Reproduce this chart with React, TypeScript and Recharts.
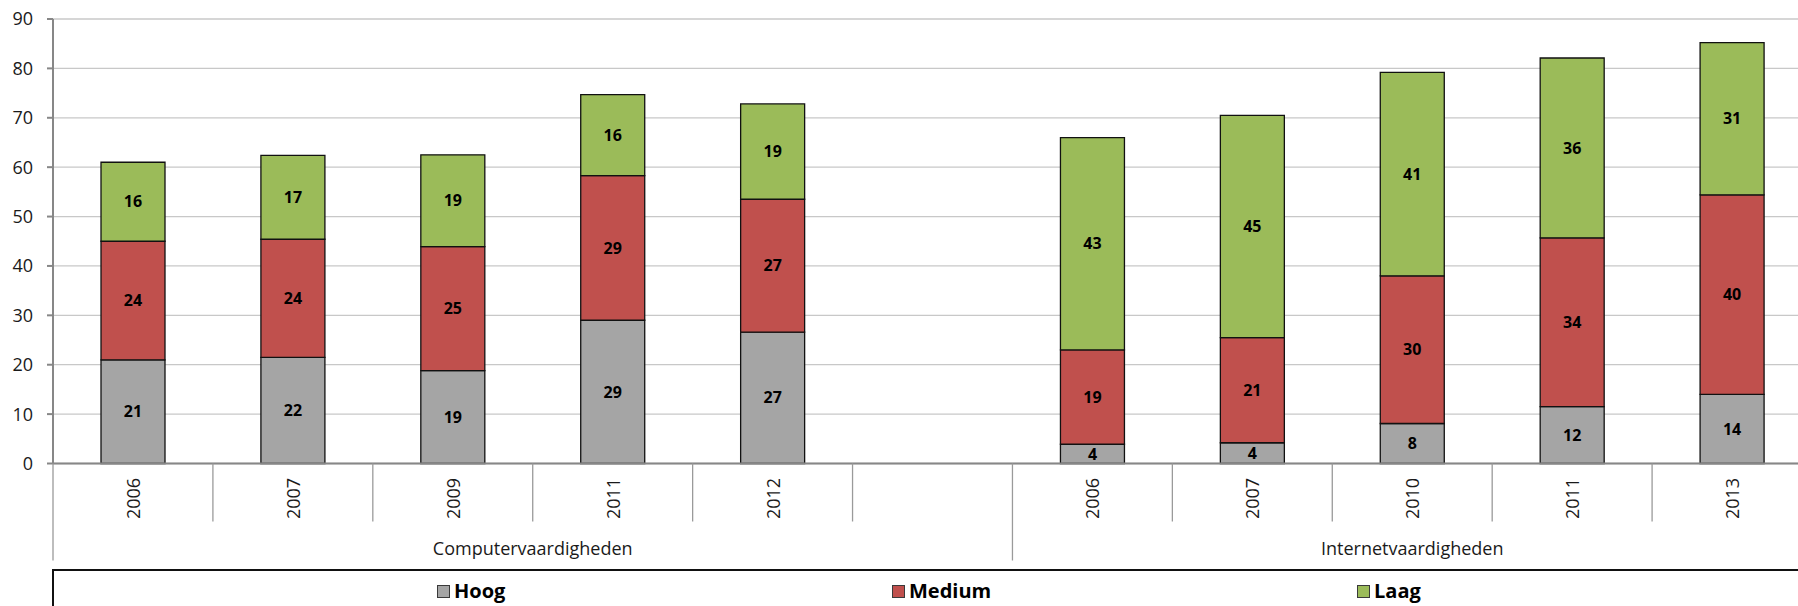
import React from 'react';
import { BarChart, Bar, XAxis, YAxis, CartesianGrid, LabelList, Legend } from 'recharts';

// categories (one slot is left empty between the two groups)
const years = ['2006', '2007', '2009', '2011', '2012', '', '2006', '2007', '2010', '2011', '2013'];
const groups = [
  'Computervaardigheden', 'Computervaardigheden', 'Computervaardigheden',
  'Computervaardigheden', 'Computervaardigheden', 'Computervaardigheden',
  'Internetvaardigheden', 'Internetvaardigheden', 'Internetvaardigheden',
  'Internetvaardigheden', 'Internetvaardigheden',
];

// series values (%)
const hoog = [21.0, 21.5, 18.8, 29.0, 26.6, null, 3.9, 4.2, 8.1, 11.5, 14.0];
const medium = [24.0, 23.9, 25.1, 29.3, 26.9, null, 19.1, 21.3, 29.9, 34.2, 40.4];
const laag = [16.0, 17.0, 18.6, 16.4, 19.3, null, 43.0, 45.0, 41.2, 36.4, 30.8];

const seriesNames = ['Hoog', 'Medium', 'Laag'];
const yTicks = [0, 10, 20, 30, 40, 50, 60, 70, 80, 90];

const data = years.map((year, i) => ({
  key: `${groups[i]}|${i}`,
  year,
  group: groups[i],
  Hoog: hoog[i],
  Medium: medium[i],
  Laag: laag[i],
}));

const FONT = '"Open Sans", "Noto Sans", sans-serif';
const CHART_W = 1820;
const CHART_H = 606;
const MARGIN = { top: 19, right: 8, bottom: 42.5, left: 0 };
const Y_AXIS_W = 53;
const X_AXIS_H = 100;
const PLOT_LEFT = MARGIN.left + Y_AXIS_W;
const PLOT_W = CHART_W - MARGIN.right - PLOT_LEFT;
const PLOT_BOTTOM = CHART_H - MARGIN.bottom - X_AXIS_H;
const SLOT = PLOT_W / data.length;

function CategoryTick(props: any) {
  const { x } = props;
  const index = props.index ?? props.payload?.index ?? 0;
  const row = data[index];
  if (!row) return null;
  const left = x - SLOT / 2;
  const right = x + SLOT / 2;
  const groupStart = index === 0 || data[index - 1].group !== row.group;
  const last = index === data.length - 1;
  const count = data.filter((d) => d.group === row.group).length;
  return (
    <g>
      <line x1={left} x2={left} y1={PLOT_BOTTOM} y2={PLOT_BOTTOM + (groupStart ? 97 : 58)} stroke="#9a9a9a" strokeWidth={1.3} />
      {last && (
        <line x1={right} x2={right} y1={PLOT_BOTTOM} y2={PLOT_BOTTOM + 97} stroke="#9a9a9a" strokeWidth={1.3} />
      )}
      {row.year && (
        <text
          transform={`translate(${x},${PLOT_BOTTOM + 35}) rotate(-90)`}
          textAnchor="middle"
          dominantBaseline="central"
          fontFamily={FONT}
          fontSize={18}
          fill="#1a1a1a"
        >
          {row.year}
        </text>
      )}
      {groupStart && (
        <text
          x={left + (count * SLOT) / 2}
          y={PLOT_BOTTOM + 84}
          textAnchor="middle"
          dominantBaseline="central"
          fontFamily={FONT}
          fontSize={18}
          fill="#1a1a1a"
        >
          {row.group}
        </text>
      )}
    </g>
  );
}

// legend item positions inside the legend box
const legendLeft = [383, 838, 1303];

function LegendBox(props: any) {
  const payload = props.payload || [];
  const items = seriesNames.map((name) => payload.find((p: any) => p.value === name)).filter(Boolean);
  return (
    <div
      style={{
        position: 'relative',
        height: 60,
        borderTop: '2px solid #111',
        borderLeft: '2px solid #111',
        fontFamily: FONT,
      }}
    >
      {items.map((p: any, i: number) => (
        <div
          key={p.value}
          style={{ position: 'absolute', left: legendLeft[i], top: 6, display: 'flex', alignItems: 'center', gap: 4 }}
        >
          <span style={{ width: 11, height: 11, background: p.color, border: '1px solid #3a3a3a', display: 'inline-block' }} />
          <span style={{ fontSize: 20, fontWeight: 700, color: '#000', lineHeight: '28px' }}>{p.value}</span>
        </div>
      ))}
    </div>
  );
}

const fmt = (v: any) => (v == null ? '' : Math.round(v));

export default function App() {
  return (
    <div
      style={{
        position: 'fixed',
        left: 0,
        top: 0,
        width: 1798,
        height: 606,
        overflow: 'hidden',
        background: '#fff',
      }}
    >
      <BarChart width={CHART_W} height={CHART_H} data={data} margin={MARGIN} barSize={64}>
        <CartesianGrid vertical={false} stroke="#c8c8c8" strokeWidth={1.3} />
        <YAxis
          domain={[0, 90]}
          ticks={yTicks}
          width={Y_AXIS_W}
          axisLine={{ stroke: '#878787', strokeWidth: 2 }}
          tickLine={{ stroke: '#878787', strokeWidth: 2 }}
          tickSize={6}
          tickMargin={14}
          tick={{ fill: '#1a1a1a', fontSize: 18, fontFamily: FONT }}
          interval={0}
        />
        <XAxis
          dataKey="key"
          height={X_AXIS_H}
          interval={0}
          tickLine={false}
          axisLine={{ stroke: '#878787', strokeWidth: 2 }}
          tick={<CategoryTick />}
        />
        <Legend
          layout="horizontal"
          verticalAlign="middle"
          align="center"
          wrapperStyle={{ top: 569, left: 52, width: 1800, height: 60 }}
          content={<LegendBox />}
        />
        <Bar dataKey="Hoog" stackId="a" fill="#a5a5a5" stroke="#111" strokeWidth={1.3} isAnimationActive={false}>
          <LabelList dataKey="Hoog" position="center" formatter={fmt} fill="#000" fontSize={16} fontWeight={700} fontFamily={FONT} />
        </Bar>
        <Bar dataKey="Medium" stackId="a" fill="#c0504d" stroke="#111" strokeWidth={1.3} isAnimationActive={false}>
          <LabelList dataKey="Medium" position="center" formatter={fmt} fill="#000" fontSize={16} fontWeight={700} fontFamily={FONT} />
        </Bar>
        <Bar dataKey="Laag" stackId="a" fill="#9bbb59" stroke="#111" strokeWidth={1.3} isAnimationActive={false}>
          <LabelList dataKey="Laag" position="center" formatter={fmt} fill="#000" fontSize={16} fontWeight={700} fontFamily={FONT} />
        </Bar>
      </BarChart>
    </div>
  );
}
